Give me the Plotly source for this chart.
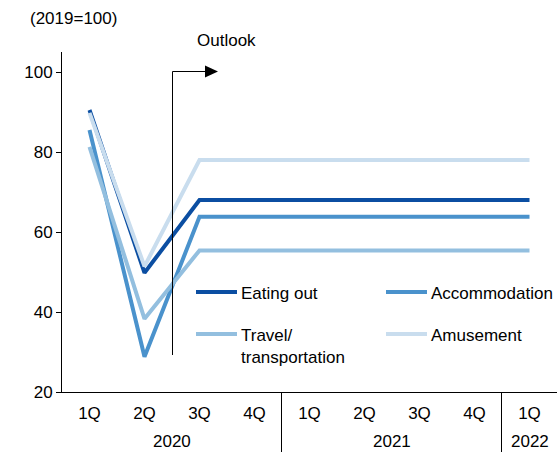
import plotly.graph_objects as go

quarters = ["1Q", "2Q", "3Q", "4Q", "1Q", "2Q", "3Q", "4Q", "1Q"]
years = ["2020", "2021", "2022"]
year_spans = [(0, 3), (4, 7), (8, 8)]

eating_out = [90.5, 49.8, 68, 68, 68, 68, 68, 68, 68]
accommodation = [85.5, 28.8, 63.8, 63.8, 63.8, 63.8, 63.8, 63.8, 63.8]
travel = [81.3, 38.3, 55.4, 55.4, 55.4, 55.4, 55.4, 55.4, 55.4]
amusement = [89.8, 51.4, 78.0, 78.0, 78.0, 78.0, 78.0, 78.0, 78.0]

series_names = ["Eating out", "Accommodation", "Travel/<br>transportation", "Amusement"]
series_values = [eating_out, accommodation, travel, amusement]
colors = ["#0B4EA2", "#4A92CC", "#93BFDF", "#C9DDEE"]

W, H = 559, 452
L, R, T, B = 62, 2, 52, 60
pw, ph = W - L - R, H - T - B


def px(x):
    return (x - L) / pw


def py(y):
    return (H - B - y) / ph


FONT = "Liberation Sans, Arial, sans-serif"
xs = list(range(len(quarters)))
unit_px = pw / len(quarters)
half_px = 0.5 / unit_px

fig = go.Figure()
for name, vals, c in zip(series_names, series_values, colors):
    fig.add_trace(go.Scatter(
        x=xs, y=vals, mode="lines", name=name,
        line=dict(color=c, width=4), showlegend=False,
    ))

shapes = []
annotations = []
# manual legend
leg_pos = [(196, 292), (386, 292), (196, 334), (386, 334)]
for (lx, ly), name, c in zip(leg_pos, series_names, colors):
    shapes.append(dict(type="line", xref="paper", yref="paper",
                       x0=px(lx), x1=px(lx + 41), y0=py(ly), y1=py(ly),
                       line=dict(color=c, width=4)))
    annotations.append(dict(
        xref="paper", yref="paper", x=px(lx + 43),
        y=py(ly - 10), xanchor="left", yanchor="top",
        text=name, showarrow=False, align="left",
        font=dict(size=17, color="black", family=FONT)))

# year group labels and dividers
for yr, (a, b) in zip(years, year_spans):
    annotations.append(dict(xref="x", yref="paper", x=(a + b) / 2, y=py(441),
                            text=yr, showarrow=False, xanchor="center",
                            yanchor="middle",
                            font=dict(size=17, color="black", family=FONT)))
    shapes.append(dict(type="line", xref="x", yref="paper",
                       x0=a - 0.5 - half_px, x1=a - 0.5 - half_px,
                       y0=0, y1=py(453),
                       line=dict(color="black", width=1)))

# outlook marker
shapes.append(dict(type="path", xref="paper", yref="paper",
                   path=f"M {px(172.5)} {py(355)} L {px(172.5)} {py(71.5)} L {px(208)} {py(71.5)}",
                   line=dict(color="black", width=1)))
shapes.append(dict(type="path", xref="paper", yref="paper",
                   path=f"M {px(205)} {py(65.5)} L {px(218)} {py(71.5)} L {px(205)} {py(77.5)} Z",
                   fillcolor="black", line=dict(color="black", width=0)))
annotations.append(dict(xref="paper", yref="paper", x=px(226), y=py(41),
                        text="Outlook", showarrow=False, xanchor="center",
                        yanchor="middle",
                        font=dict(size=17, color="black", family=FONT)))
annotations.append(dict(xref="paper", yref="paper", x=px(73), y=py(19),
                        text="(2019=100)", showarrow=False, xanchor="center",
                        yanchor="middle",
                        font=dict(size=17, color="black", family=FONT)))

fig.update_layout(
    width=W, height=H,
    margin=dict(l=L, r=R, t=T, b=B),
    paper_bgcolor="white", plot_bgcolor="white",
    font=dict(family=FONT, size=17, color="black"),
    shapes=shapes, annotations=annotations,
    showlegend=False,
)
fig.update_xaxes(
    tickvals=xs, ticktext=quarters, showline=True, linecolor="black",
    linewidth=1, showgrid=False, ticks="", zeroline=False,
    ticklabelstandoff=6, tickfont=dict(size=17),
    range=[-0.5, 8.5],
)
fig.update_yaxes(
    range=[20, 105], tickvals=[20, 40, 60, 80, 100], showline=True,
    linecolor="black", linewidth=1, showgrid=False, ticks="outside",
    ticklen=5, tickcolor="black", zeroline=False, tickfont=dict(size=17),
)
fig.write_html("out.html")
